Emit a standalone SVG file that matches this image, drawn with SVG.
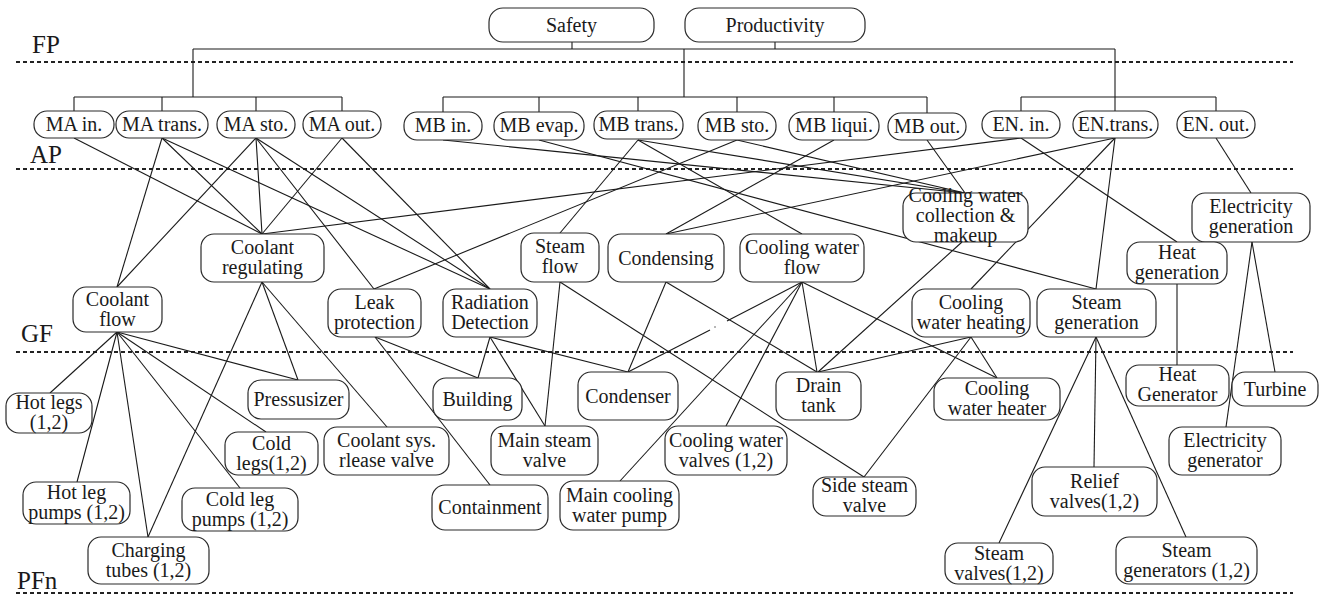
<svg xmlns="http://www.w3.org/2000/svg" width="1327" height="598" viewBox="0 0 1327 598">
<style>
.bg{fill:#fff}
.n rect{fill:#fff;stroke:#2a2a2a;stroke-width:1.2}
.n text,.lbl{font-family:"Liberation Serif","Times New Roman",serif;fill:#1a1a1a}
.n text{font-size:20px;text-anchor:middle}
.lbl{font-size:25px}
.c line{stroke:#1a1a1a;stroke-width:1.1;fill:none}
.lv line{stroke:#222;stroke-width:2;stroke-dasharray:4 3}
</style>
<rect class="bg" x="0" y="0" width="1327" height="598"/>
<g id="levels" class="lv">
<line x1="16" y1="62" x2="1293" y2="62"/>
<line x1="16" y1="169" x2="1293" y2="169"/>
<line x1="16" y1="352" x2="1293" y2="352"/>
<line x1="16" y1="593" x2="1293" y2="593"/>
</g>
<g id="level-labels">
<text class="lbl" x="32" y="53">FP</text>
<text class="lbl" x="30" y="163">AP</text>
<text class="lbl" x="21" y="342">GF</text>
<text class="lbl" x="17" y="589">PFn</text>
</g>
<g id="connectors" class="c">
<line x1="572" y1="42" x2="572" y2="49"/>
<line x1="775" y1="42" x2="775" y2="49"/>
<line x1="193" y1="49" x2="1115" y2="49"/>
<line x1="193" y1="49" x2="193" y2="97"/>
<line x1="684" y1="49" x2="684" y2="97"/>
<line x1="1115" y1="49" x2="1115" y2="111"/>
<line x1="74" y1="97" x2="342" y2="97"/>
<line x1="74" y1="97" x2="74" y2="111"/>
<line x1="162" y1="97" x2="162" y2="111"/>
<line x1="256" y1="97" x2="256" y2="111"/>
<line x1="342" y1="97" x2="342" y2="111"/>
<line x1="443" y1="97" x2="927" y2="97"/>
<line x1="443" y1="97" x2="443" y2="112"/>
<line x1="539" y1="97" x2="539" y2="112"/>
<line x1="638" y1="97" x2="638" y2="112"/>
<line x1="737" y1="97" x2="737" y2="112"/>
<line x1="834" y1="97" x2="834" y2="112"/>
<line x1="927" y1="97" x2="927" y2="113"/>
<line x1="1021" y1="97" x2="1216" y2="97"/>
<line x1="1021" y1="97" x2="1021" y2="111"/>
<line x1="1216" y1="97" x2="1216" y2="111"/>
<!-- AP to GF -->
<line x1="74" y1="138" x2="262" y2="234"/>
<line x1="162" y1="138" x2="117" y2="287"/>
<line x1="162" y1="138" x2="262" y2="234"/>
<line x1="162" y1="138" x2="490" y2="289"/>
<line x1="256" y1="138" x2="117" y2="287"/>
<line x1="256" y1="138" x2="262" y2="234"/>
<line x1="256" y1="138" x2="374" y2="289"/>
<line x1="256" y1="138" x2="490" y2="289"/>
<line x1="342" y1="138" x2="262" y2="234"/>
<line x1="342" y1="138" x2="490" y2="289"/>
<line x1="443" y1="140" x2="965" y2="193"/>
<line x1="539" y1="140" x2="1096" y2="289"/>
<line x1="638" y1="140" x2="560" y2="233"/>
<line x1="638" y1="140" x2="802" y2="234"/>
<line x1="638" y1="140" x2="965" y2="193"/>
<line x1="737" y1="140" x2="374" y2="289"/>
<line x1="737" y1="140" x2="965" y2="193"/>
<line x1="834" y1="140" x2="666" y2="234"/>
<line x1="927" y1="140" x2="965" y2="193"/>
<line x1="1021" y1="138" x2="262" y2="234"/>
<line x1="1021" y1="138" x2="1177" y2="242"/>
<line x1="1115" y1="138" x2="666" y2="234"/>
<line x1="1115" y1="138" x2="971" y2="289"/>
<line x1="1115" y1="138" x2="1096" y2="289"/>
<line x1="1216" y1="138" x2="1251" y2="193"/>
<!-- GF to PFn -->
<line x1="117" y1="332" x2="50" y2="393"/>
<line x1="117" y1="332" x2="77" y2="482"/>
<line x1="117" y1="332" x2="148" y2="537"/>
<line x1="117" y1="332" x2="240" y2="488"/>
<line x1="117" y1="332" x2="266" y2="432"/>
<line x1="117" y1="332" x2="298" y2="380"/>
<line x1="262" y1="282" x2="148" y2="537"/>
<line x1="262" y1="282" x2="298" y2="380"/>
<line x1="262" y1="282" x2="387" y2="427"/>
<line x1="375" y1="337" x2="490" y2="485"/>
<line x1="375" y1="337" x2="478" y2="378"/>
<line x1="490" y1="337" x2="478" y2="378"/>
<line x1="490" y1="337" x2="545" y2="426"/>
<line x1="490" y1="337" x2="628" y2="372"/>
<line x1="560" y1="282" x2="545" y2="426"/>
<line x1="560" y1="282" x2="864" y2="477"/>
<line x1="666" y1="282" x2="628" y2="372"/>
<line x1="666" y1="282" x2="817" y2="372"/>
<line x1="802" y1="282" x2="727" y2="321"/>
<line x1="714.5" y1="327.3" x2="715.5" y2="326.8"/>
<line x1="710" y1="330" x2="628" y2="372"/>
<line x1="802" y1="282" x2="620" y2="481"/>
<line x1="802" y1="282" x2="726" y2="426"/>
<line x1="802" y1="282" x2="817" y2="372"/>
<line x1="802" y1="282" x2="997" y2="378"/>
<line x1="962" y1="242" x2="818" y2="372"/>
<line x1="971" y1="337" x2="818" y2="372"/>
<line x1="971" y1="337" x2="997" y2="378"/>
<line x1="971" y1="337" x2="864" y2="477"/>
<line x1="1096" y1="337" x2="999" y2="543"/>
<line x1="1096" y1="337" x2="1094" y2="467"/>
<line x1="1096" y1="337" x2="1186" y2="537"/>
<line x1="1177" y1="284" x2="1177" y2="365"/>
<line x1="1252" y1="242" x2="1275" y2="372"/>
<line x1="1252" y1="242" x2="1226" y2="427"/>
</g>
<g id="safety" class="n"><rect x="489" y="8" width="165" height="34" rx="14"/><text x="571.5" y="32">Safety</text></g>
<g id="productivity" class="n"><rect x="685" y="8" width="180" height="34" rx="14"/><text x="775" y="32">Productivity</text></g>
<g id="ma-in" class="n"><rect x="34" y="111" width="80" height="27" rx="13"/><text x="74" y="130.5">MA in.</text></g>
<g id="ma-trans" class="n"><rect x="116" y="111" width="92" height="27" rx="13"/><text x="162" y="130.5">MA trans.</text></g>
<g id="ma-sto" class="n"><rect x="217" y="111" width="78" height="27" rx="13"/><text x="256" y="130.5">MA sto.</text></g>
<g id="ma-out" class="n"><rect x="303" y="111" width="78" height="27" rx="13"/><text x="342" y="130.5">MA out.</text></g>
<g id="mb-in" class="n"><rect x="404" y="112" width="78" height="28" rx="13"/><text x="443" y="132">MB in.</text></g>
<g id="mb-evap" class="n"><rect x="494" y="112" width="90" height="28" rx="13"/><text x="539" y="132">MB evap.</text></g>
<g id="mb-trans" class="n"><rect x="594" y="111" width="89" height="28" rx="13"/><text x="638.5" y="130.5">MB trans.</text></g>
<g id="mb-sto" class="n"><rect x="698" y="112" width="78" height="28" rx="13"/><text x="737" y="132">MB sto.</text></g>
<g id="mb-liqui" class="n"><rect x="789" y="112" width="90" height="28" rx="13"/><text x="834" y="132">MB liqui.</text></g>
<g id="mb-out" class="n"><rect x="888" y="113" width="78" height="27" rx="13"/><text x="927" y="132.5">MB out.</text></g>
<g id="en-in" class="n"><rect x="982" y="111" width="78" height="27" rx="13"/><text x="1021" y="130.5">EN. in.</text></g>
<g id="en-trans" class="n"><rect x="1073" y="111" width="85" height="27" rx="13"/><text x="1115.5" y="130.5">EN.trans.</text></g>
<g id="en-out" class="n"><rect x="1177" y="111" width="78" height="27" rx="13"/><text x="1216" y="130.5">EN. out.</text></g>
<g id="coolant-regulating" class="n"><rect x="201" y="234" width="123" height="48" rx="13"/><text x="262.5" y="254">Coolant</text><text x="262.5" y="274">regulating</text></g>
<g id="coolant-flow" class="n"><rect x="73" y="287" width="89" height="45" rx="13"/><text x="117.5" y="305.5">Coolant</text><text x="117.5" y="325.5">flow</text></g>
<g id="leak-protection" class="n"><rect x="328" y="289" width="93" height="48" rx="13"/><text x="374.5" y="309">Leak</text><text x="374.5" y="329">protection</text></g>
<g id="radiation-detection" class="n"><rect x="443" y="289" width="94" height="48" rx="13"/><text x="490" y="309">Radiation</text><text x="490" y="329">Detection</text></g>
<g id="steam-flow" class="n"><rect x="521" y="233" width="78" height="49" rx="13"/><text x="560" y="253">Steam</text><text x="560" y="273">flow</text></g>
<g id="condensing" class="n"><rect x="608" y="234" width="116" height="48" rx="13"/><text x="666" y="264.5">Condensing</text></g>
<g id="cooling-water-flow" class="n"><rect x="740" y="234" width="124" height="48" rx="13"/><text x="802" y="254">Cooling water</text><text x="802" y="274">flow</text></g>
<g id="cooling-water-collection" class="n"><rect x="903" y="193" width="125" height="49" rx="13"/><text x="965.5" y="202">Cooling water</text><text x="965.5" y="222">collection &amp;</text><text x="965.5" y="242">makeup</text></g>
<g id="electricity-generation" class="n"><rect x="1192" y="193" width="118" height="49" rx="13"/><text x="1251" y="213">Electricity</text><text x="1251" y="233">generation</text></g>
<g id="heat-generation" class="n"><rect x="1127" y="242" width="100" height="42" rx="13"/><text x="1177" y="258.5">Heat</text><text x="1177" y="278.5">generation</text></g>
<g id="cooling-water-heating" class="n"><rect x="912" y="289" width="118" height="48" rx="13"/><text x="971" y="309">Cooling</text><text x="971" y="329">water heating</text></g>
<g id="steam-generation" class="n"><rect x="1037" y="289" width="119" height="48" rx="13"/><text x="1096.5" y="309">Steam</text><text x="1096.5" y="329">generation</text></g>
<g id="hot-legs" class="n"><rect x="6" y="393" width="86" height="40" rx="13"/><text x="49" y="409">Hot legs</text><text x="49" y="429">(1,2)</text></g>
<g id="pressusizer" class="n"><rect x="248" y="380" width="101" height="39" rx="13"/><text x="298.5" y="406">Pressusizer</text></g>
<g id="cold-legs" class="n"><rect x="225" y="432" width="93" height="43" rx="13"/><text x="271.5" y="449.5">Cold</text><text x="271.5" y="469.5">legs(1,2)</text></g>
<g id="coolant-release-valve" class="n"><rect x="324" y="427" width="125" height="48" rx="13"/><text x="386.5" y="447">Coolant sys.</text><text x="386.5" y="467">rlease valve</text></g>
<g id="hot-leg-pumps" class="n"><rect x="23" y="482" width="107" height="42" rx="13"/><text x="76.5" y="499">Hot leg</text><text x="76.5" y="519">pumps (1,2)</text></g>
<g id="cold-leg-pumps" class="n"><rect x="182" y="488" width="116" height="43" rx="13"/><text x="240" y="505.5">Cold leg</text><text x="240" y="525.5">pumps (1,2)</text></g>
<g id="charging-tubes" class="n"><rect x="88" y="537" width="121" height="47" rx="13"/><text x="148.5" y="556.5">Charging</text><text x="148.5" y="576.5">tubes (1,2)</text></g>
<g id="building" class="n"><rect x="433" y="378" width="89" height="42" rx="13"/><text x="477.5" y="405.5">Building</text></g>
<g id="condenser" class="n"><rect x="578" y="372" width="100" height="48" rx="13"/><text x="628" y="402.5">Condenser</text></g>
<g id="main-steam-valve" class="n"><rect x="491" y="426" width="107" height="49" rx="13"/><text x="544.5" y="446.5">Main steam</text><text x="544.5" y="466.5">valve</text></g>
<g id="containment" class="n"><rect x="432" y="485" width="116" height="45" rx="13"/><text x="490" y="514">Containment</text></g>
<g id="main-cooling-water-pump" class="n"><rect x="560" y="481" width="119" height="49" rx="13"/><text x="619.5" y="501.5">Main cooling</text><text x="619.5" y="521.5">water pump</text></g>
<g id="cooling-water-valves" class="n"><rect x="665" y="426" width="122" height="49" rx="13"/><text x="726" y="446.5">Cooling water</text><text x="726" y="466.5">valves (1,2)</text></g>
<g id="drain-tank" class="n"><rect x="776" y="372" width="85" height="48" rx="13"/><text x="818.5" y="392">Drain</text><text x="818.5" y="412">tank</text></g>
<g id="side-steam-valve" class="n"><rect x="813" y="477" width="103" height="39" rx="13"/><text x="864.5" y="492">Side steam</text><text x="864.5" y="512">valve</text></g>
<g id="cooling-water-heater" class="n"><rect x="934" y="378" width="126" height="42" rx="13"/><text x="997" y="394.5">Cooling</text><text x="997" y="414.5">water heater</text></g>
<g id="heat-generator" class="n"><rect x="1126" y="365" width="103" height="41" rx="13"/><text x="1177.5" y="381">Heat</text><text x="1177.5" y="401">Generator</text></g>
<g id="turbine" class="n"><rect x="1232" y="372" width="86" height="34" rx="13"/><text x="1275" y="395.5">Turbine</text></g>
<g id="electricity-generator" class="n"><rect x="1169" y="427" width="112" height="48" rx="13"/><text x="1225" y="446.5">Electricity</text><text x="1225" y="466.5">generator</text></g>
<g id="relief-valves" class="n"><rect x="1032" y="467" width="125" height="49" rx="13"/><text x="1094.5" y="487.5">Relief</text><text x="1094.5" y="507.5">valves(1,2)</text></g>
<g id="steam-valves" class="n"><rect x="945" y="543" width="108" height="41" rx="13"/><text x="999" y="559.5">Steam</text><text x="999" y="579.5">valves(1,2)</text></g>
<g id="steam-generators" class="n"><rect x="1116" y="537" width="141" height="47" rx="13"/><text x="1186.5" y="556.5">Steam</text><text x="1186.5" y="576.5">generators (1,2)</text></g>
</svg>
